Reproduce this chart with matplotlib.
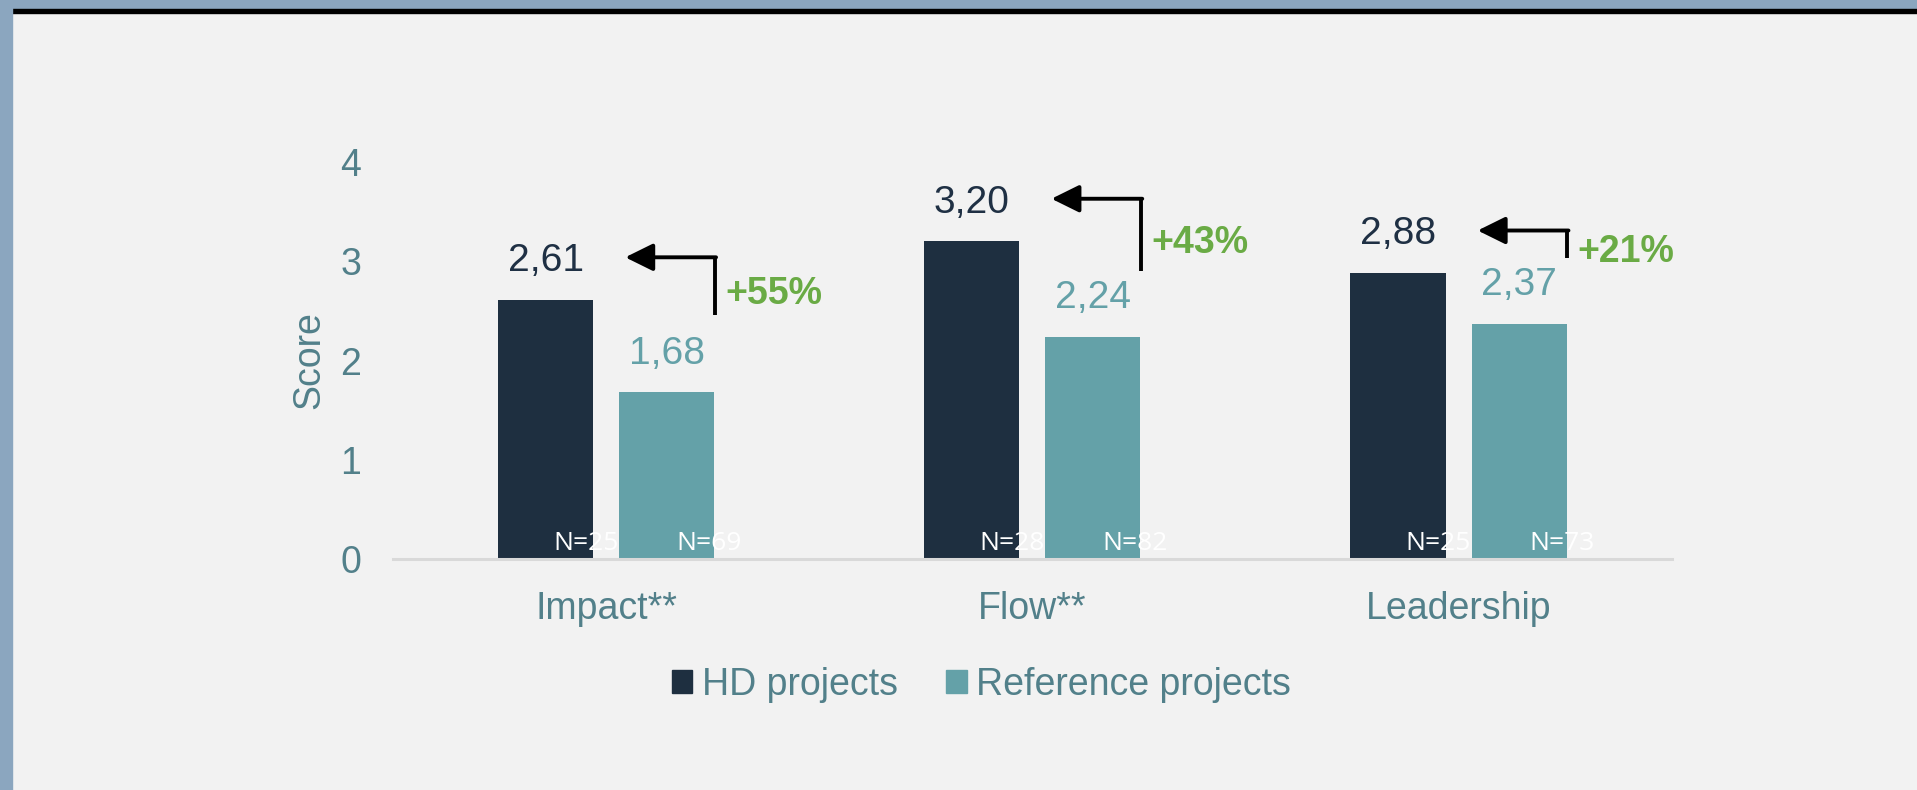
import numpy as np
import matplotlib
matplotlib.use("Agg")
import matplotlib.pyplot as plt
from matplotlib.patches import Rectangle, Patch

categories = ["Impact**", "Flow**", "Leadership"]
hd_scores = [2.61, 3.20, 2.88]
ref_scores = [1.68, 2.24, 2.37]
hd_n = [25, 28, 25]
ref_n = [69, 82, 73]
diff_labels = ["+55%", "+43%", "+21%"]
series_names = ["HD projects", "Reference projects"]

# gap between the reference value and the foot of each elbow arrow (layout only)
arrow_foot = [0.78, 0.66, 0.66]

navy = "#1E2F40"
teal = "#64A1A8"
text_col = "#52808A"
green = "#6AAB45"
bg = "#F2F2F2"
frame = "#8BA6BF"

plt.rcParams["font.family"] = ["Liberation Sans", "DejaVu Sans"]

fig = plt.figure(figsize=(19.17, 7.9), dpi=100, facecolor=bg)
ax = fig.add_axes([0.205, 0.2924, 0.667, 0.5025])
ax.set_facecolor(bg)

# frame around the slide
fig.patches.append(Rectangle((0, 1 - 9 / 790), 1, 9 / 790, transform=fig.transFigure,
                             color=frame, zorder=0))
fig.patches.append(Rectangle((12 / 1917, 1 - 13 / 790), 1, 4 / 790, transform=fig.transFigure,
                             color="black", zorder=0))
fig.patches.append(Rectangle((0, 0), 12 / 1917, 1, transform=fig.transFigure,
                             color=frame, zorder=0))

x = np.arange(len(categories))
w = 0.223
off = 0.142
b1 = ax.bar(x - off, hd_scores, w, color=navy, label=series_names[0])
b2 = ax.bar(x + off, ref_scores, w, color=teal, label=series_names[1])

fmt = lambda v: f"{v:.2f}".replace(".", ",")
for i in range(len(categories)):
    ax.text(x[i] - off, hd_scores[i] + 0.39, fmt(hd_scores[i]), ha="center", va="center",
            fontsize=28, color="#1F3044")
    ax.text(x[i] + off, ref_scores[i] + 0.39, fmt(ref_scores[i]), ha="center", va="center",
            fontsize=28, color=teal)
    ax.text(x[i] - off + 0.095, 0.16, f"N={hd_n[i]}", ha="center", va="center",
            fontsize=19, color="white", family="Open Sans")
    ax.text(x[i] + off + 0.1, 0.16, f"N={ref_n[i]}", ha="center", va="center",
            fontsize=19, color="white", family="Open Sans")

    # elbow arrow with percent difference
    top = hd_scores[i] + 0.43
    bottom = ref_scores[i] + arrow_foot[i]
    xv = x[i] + 0.255
    ax.plot([xv, xv], [bottom, top], color="black", lw=2.8, solid_capstyle="butt")
    ax.annotate("", xy=(x[i] + 0.045, top), xytext=(xv + 0.003, top),
                arrowprops=dict(arrowstyle="-|>,head_length=0.85,head_width=0.42",
                                mutation_scale=20, color="black", lw=2.8,
                                shrinkA=0, shrinkB=0))
    ax.text(xv + 0.025, (top + bottom) / 2 - 0.08, diff_labels[i], ha="left", va="center",
            fontsize=27, fontweight="bold", color=green)

ax.set_xlim(-0.5, 2.5)
ax.set_ylim(0, 4)
ax.set_yticks([0, 1, 2, 3, 4])
ax.set_xticks(x)
ax.set_xticklabels(categories)
ax.tick_params(axis="y", length=0, pad=23, labelsize=27, labelcolor=text_col)
ax.tick_params(axis="x", length=0, pad=23, labelsize=27, labelcolor=text_col)
for s in ["top", "right", "left"]:
    ax.spines[s].set_visible(False)
ax.spines["bottom"].set_color("#D9D9D9")
ax.spines["bottom"].set_linewidth(2.2)

ax.set_ylabel("Score", fontsize=27, color=text_col)
ax.yaxis.set_label_coords(-0.051, 0.5)

handles = [Patch(color=navy), Patch(color=teal)]
fig.legend(handles, series_names, loc="center", bbox_to_anchor=(0.512, 0.133), ncol=2,
           frameon=False, fontsize=27, labelcolor=text_col, handlelength=0.55,
           handleheight=0.55, handletextpad=0.25, columnspacing=1.3)

fig.savefig("out.png", dpi=100, facecolor=bg)
